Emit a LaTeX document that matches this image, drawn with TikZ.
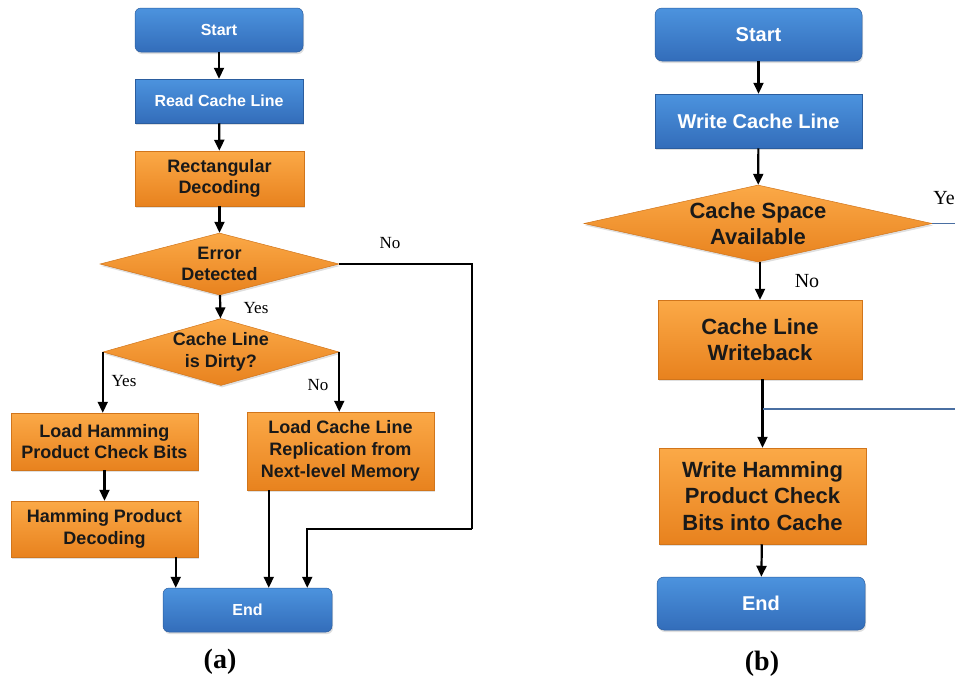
\documentclass[tikz,border=0pt]{standalone}
\usepackage{fontspec}
\setmainfont{Liberation Serif}
\newfontfamily\boxfont{Liberation Sans}
\usetikzlibrary{arrows.meta,positioning,shapes.geometric,shadows}
\definecolor{bluetop}{HTML}{4C93DE}
\definecolor{bluebot}{HTML}{336DBA}
\definecolor{orangetop}{HTML}{FBA947}
\definecolor{orangebot}{HTML}{E8821E}
\definecolor{feedblue}{HTML}{4A6FA2}

\begin{document}
\begin{tikzpicture}[x=1pt,y=-1pt]
	\tikzset{
		shade/.style={drop shadow={opacity=0.25,shadow xshift=1pt,shadow yshift=-2pt}},
		blueblock/.style={rectangle,shade,draw=bluebot!85!black,line width=0.5pt,top color=bluetop,bottom color=bluebot,text=white,align=center,inner sep=0pt,font=\boxfont\bfseries\fontsize{16}{20}\selectfont},
		orangeblock/.style={rectangle,shade,draw=orangebot!90!black,line width=0.5pt,top color=orangetop,bottom color=orangebot,text=black!90,align=center,inner sep=0pt,font=\boxfont\bfseries\fontsize{18}{21.7}\selectfont},
		decision/.style={diamond,shade,draw=orangebot!90!black,line width=0.5pt,top color=orangetop,bottom color=orangebot,inner sep=0pt},
		dtext/.style={text=black!90,align=center,font=\boxfont\bfseries\fontsize{18}{21.7}\selectfont},
		flow/.style={-{Triangle[length=11pt,width=10pt]},line width=2.2pt},
		loop/.style={line width=1.8pt},
		feed/.style={line width=1.5pt,color=feedblue},
		lbl/.style={font=\fontsize{17}{20}\selectfont},
		bigger/.style={font=\boxfont\bfseries\fontsize{20}{26.7}\selectfont},
		biggest/.style={font=\boxfont\bfseries\fontsize{22}{26.7}\selectfont}
	}
	\useasboundingbox (0,0) rectangle (955,686);
	\clip (0,0) rectangle (955,686);

	\node [blueblock,rounded corners=6pt,minimum width=168pt,minimum height=44pt] (startA) at (219,30) {Start};
	\node [blueblock,minimum width=168pt,minimum height=44pt] (readA) at (219,101) {Read Cache Line};
	\node [orangeblock,minimum width=169pt,minimum height=55pt] (rectA) at (219.5,178.5) {Rectangular\\Decoding};
	\node [decision,minimum width=239pt,minimum height=62pt] (errA) at (219.5,264) {};
	\node [dtext] (errtxtA) at (errA.center) {Error\\Detected};
	\node [decision,minimum width=236pt,minimum height=67pt] (dirtyA) at (221,352) {};
	\node [dtext] (dirtytxtA) at (dirtyA.center) {Cache Line\\is Dirty?};
	\node [orangeblock,minimum width=187pt,minimum height=57pt] (hamA) at (104.5,441.5) {Load Hamming\\Product Check Bits};
	\node [orangeblock,minimum width=187pt,minimum height=78pt] (replA) at (340.5,451) {Load Cache Line\\Replication from\\Next-level Memory};
	\node [orangeblock,minimum width=187pt,minimum height=56pt] (hdecA) at (104.5,529) {Hamming Product\\Decoding};
	\node [blueblock,rounded corners=6pt,minimum width=169pt,minimum height=44pt] (endA) at (247.5,610) {End};
	\coordinate (loopA) at (472,529);

	\draw [flow] (startA) -- (readA);
	\draw [flow] (readA) -- (rectA);
	\draw [flow] (rectA) -- (errA);
	\draw [flow] (errA) -- (dirtyA);
	\draw [flow] (dirtyA.west) -- (dirtyA.west |- hamA.north);
	\draw [flow] (dirtyA.east) -- (dirtyA.east |- replA.north);
	\draw [flow] (hamA) -- (hdecA);
	\draw [flow] ([xshift=13pt]endA.north west |- hdecA.south) -- ([xshift=13pt]endA.north west);
	\draw [flow] ([xshift=22pt]replA.south west) -- ([xshift=22pt]replA.south west |- endA.north);
	\draw [loop] (errA.east) -| (loopA);
	\draw [flow] (loopA) -| ([xshift=-25pt]endA.north east);

	\node [lbl] (noA) at (390,243) {No};
	\node [lbl] (yesA) at (256,308) {Yes};
	\node [lbl] (yesdA) at (124,381) {Yes};
	\node [lbl] (nodA) at (318,385) {No};
	\node [font=\bfseries\fontsize{28}{32}\selectfont] (capA) at (220,662) {(a)};

	\node [blueblock,bigger,rounded corners=7pt,minimum width=207pt,minimum height=53pt] (startB) at (758.5,34.5) {Start};
	\node [blueblock,bigger,minimum width=207pt,minimum height=54pt] (writeB) at (758.5,121) {Write Cache Line};
	\node [decision,minimum width=348pt,minimum height=77pt] (spaceB) at (758,223.5) {};
	\node [dtext,biggest] (spacetxtB) at (spaceB.center) {Cache Space\\Available};
	\node [orangeblock,biggest,minimum width=204pt,minimum height=79pt] (wbB) at (760,339.5) {Cache Line\\Writeback};
	\node [orangeblock,biggest,minimum width=207pt,minimum height=96pt] (hpB) at (762.5,496) {Write Hamming\\Product Check\\Bits into Cache};
	\node [blueblock,bigger,rounded corners=7pt,minimum width=208pt,minimum height=53pt] (endB) at (761,603.5) {End};
	\coordinate (joinB) at (763,409);
	\coordinate (offB) at (962,409);
	\coordinate (yesoffB) at (962,223.5);

	\draw [flow] (startB) -- (writeB);
	\draw [flow] (writeB) -- (spaceB);
	\draw [flow] ([xshift=2pt]spaceB.south) -- ([xshift=2pt]spaceB.south |- wbB.north);
	\draw [flow] (wbB.south -| hpB.north) -- (hpB.north);
	\draw [flow] (hpB) -- (endB);
	\draw [feed] (spaceB.east) -- (yesoffB);
	\draw [feed] (joinB) -- (offB);

	\node [lbl,font=\fontsize{20}{24}\selectfont,anchor=east,inner sep=0pt] (yesB) at (955,198) {Ye};
	\node [lbl,font=\fontsize{20}{24}\selectfont] (noB) at (807,281) {No};
	\node [font=\bfseries\fontsize{28}{32}\selectfont] (capB) at (762,664) {(b)};
\end{tikzpicture}
\end{document}
